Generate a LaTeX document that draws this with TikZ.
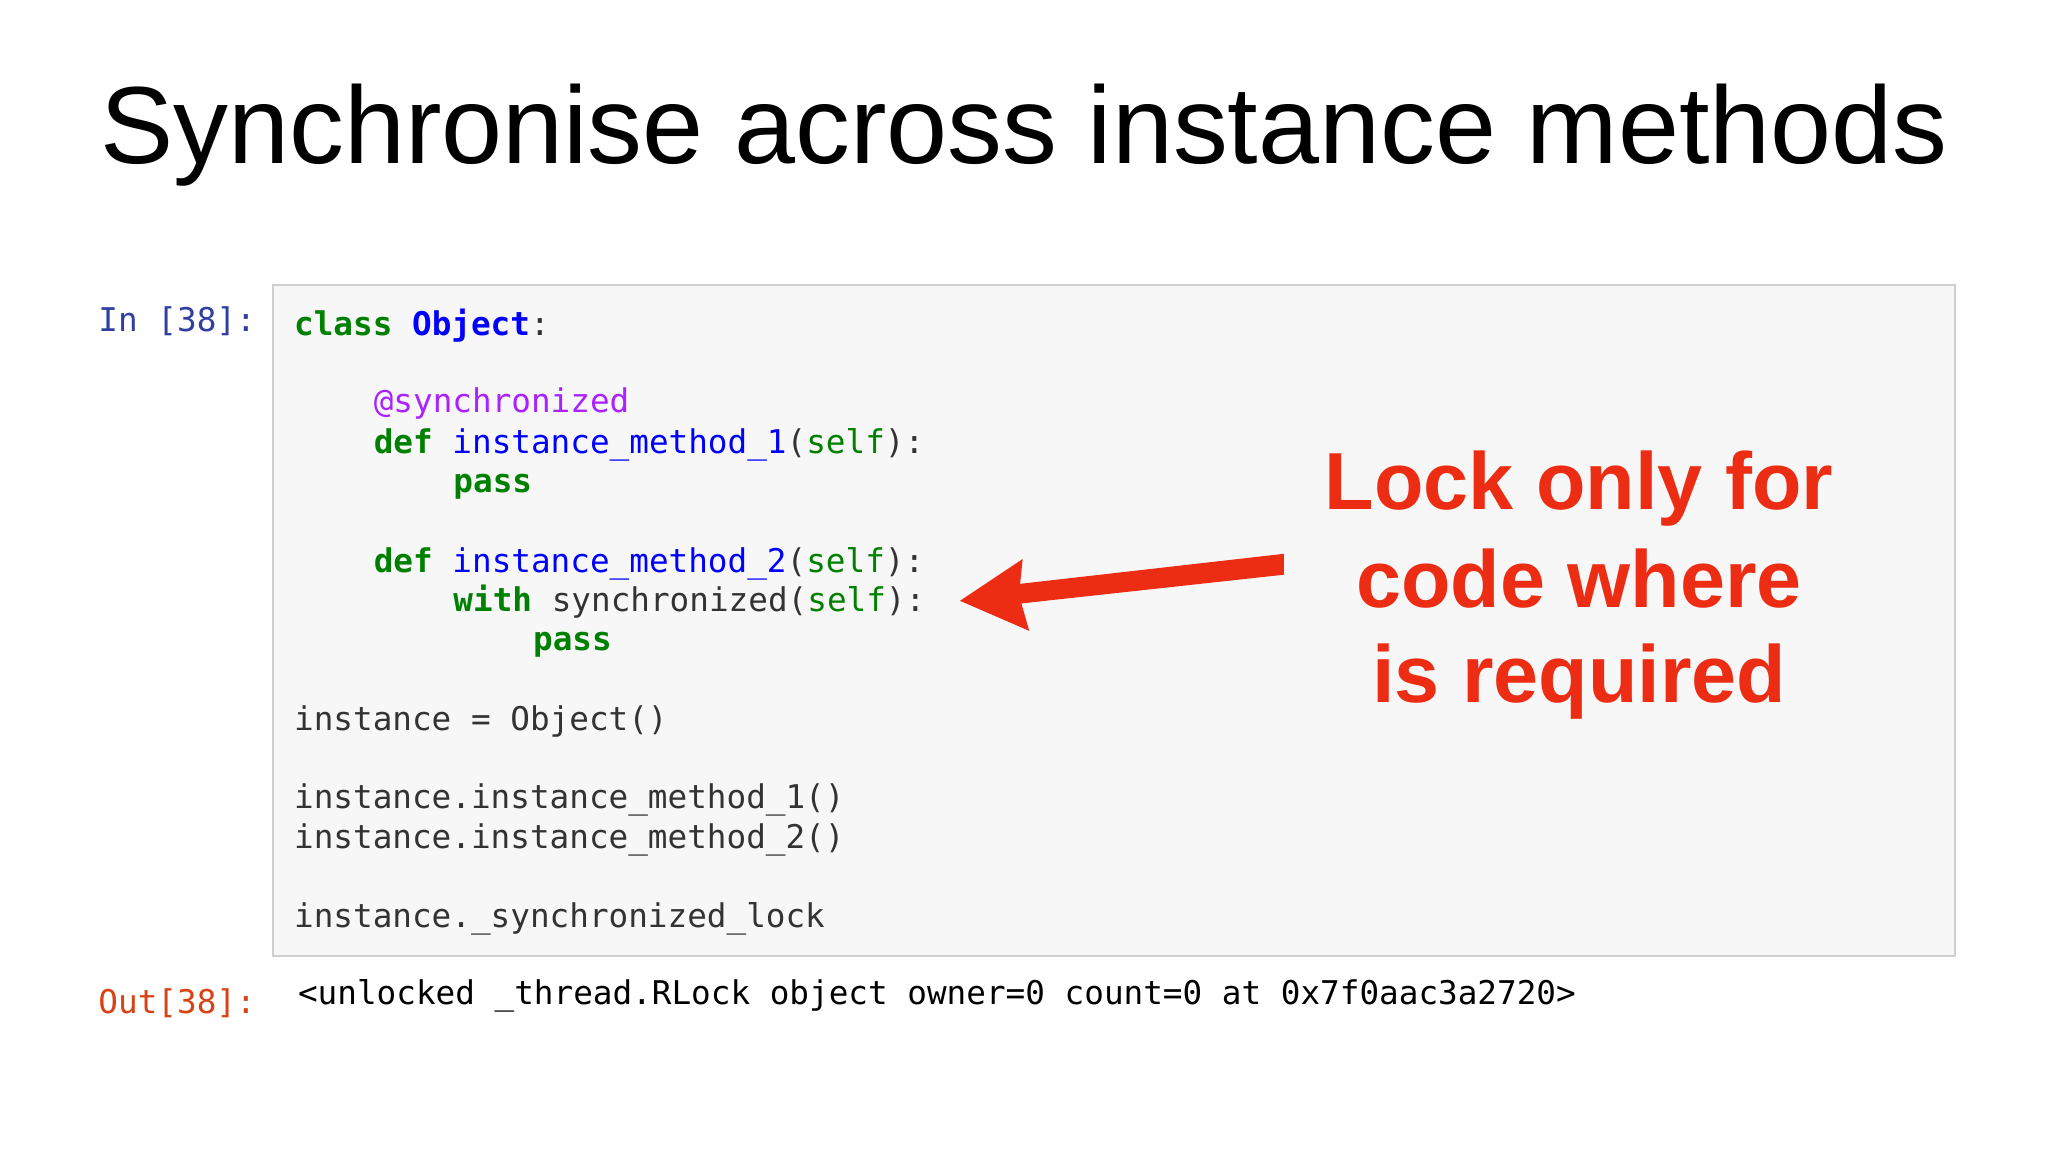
\documentclass[tikz,border=0pt]{standalone}
\usepackage{fontspec}
\setmainfont{Liberation Sans}
\setmonofont{DejaVu Sans Mono}
\definecolor{kw}{HTML}{008000}
\definecolor{nm}{HTML}{0000FF}
\definecolor{dec}{HTML}{AA22FF}
\definecolor{txt}{HTML}{333333}
\definecolor{pin}{HTML}{303F9F}
\definecolor{pout}{HTML}{D84315}
\definecolor{redc}{HTML}{EC2D14}
\newcommand{\K}[1]{\textcolor{kw}{\bfseries #1}}
\newcommand{\N}[1]{\textcolor{nm}{#1}}
\begin{document}
\begin{tikzpicture}[x=1pt,y=-1pt,
  code/.style={anchor=base west,inner sep=0,font=\ttfamily\fontsize{25}{30}\selectfont,text=txt},
  prompt/.style={anchor=base east,inner sep=0,font=\ttfamily\fontsize{25}{30}\selectfont},
  callout/.style={anchor=base,inner sep=0,font=\bfseries\fontsize{62}{70}\selectfont,text=redc}]
\useasboundingbox (0,0) rectangle (1568,882);
\fill[white] (0,0) rectangle (1568,882);
\node[anchor=base,inner sep=0,font=\fontsize{84}{90}\selectfont] (title) at (784,125) {Synchronise across instance methods};
\draw[fill=black!3,draw=black!19,line width=1.5] (209,218) rectangle (1497,732);
\node[prompt,text=pin] (pin) at (196,254) {In [38]:};
\node[prompt,text=pout] (pout) at (196,776) {Out[38]:};
\node[code] (l1) at (225,257) {\K{class} \N{\bfseries Object}:};
\node[code] (l2) at (286,316) {\textcolor{dec}{@synchronized}};
\node[code] (l3) at (286,347) {\K{def} \N{instance\_method\_1}(\textcolor{kw}{self}):};
\node[code] (l4) at (347,377) {\K{pass}};
\node[code] (l5) at (286,438) {\K{def} \N{instance\_method\_2}(\textcolor{kw}{self}):};
\node[code] (l6) at (347,468) {\K{with} synchronized(\textcolor{kw}{self}):};
\node[code] (l7) at (408,498) {\K{pass}};
\node[code] (l8) at (225,559) {instance = Object()};
\node[code] (l9) at (225,619) {instance.instance\_method\_1()};
\node[code] (l10) at (225,650) {instance.instance\_method\_2()};
\node[code] (l11) at (225,710) {instance.\_synchronized\_lock};
\node[code,text=black] (out) at (228,769) {<unlocked \_thread.RLock object owner=0 count=0 at 0x7f0aac3a2720>};
\node[callout] (c1) at (1209,390) {Lock only for};
\node[callout] (c2) at (1209,465) {code where};
\node[callout] (c3) at (1209,538) {is required};
\coordinate (tip) at (735,460);
\coordinate (tail) at (983,432);
\fill[redc] (tail) ++(0,-8) -- (983,440) -- (782,462) -- (788,483) -- (tip) -- (783,428) -- (781,447) -- cycle;
\end{tikzpicture}
\end{document}
